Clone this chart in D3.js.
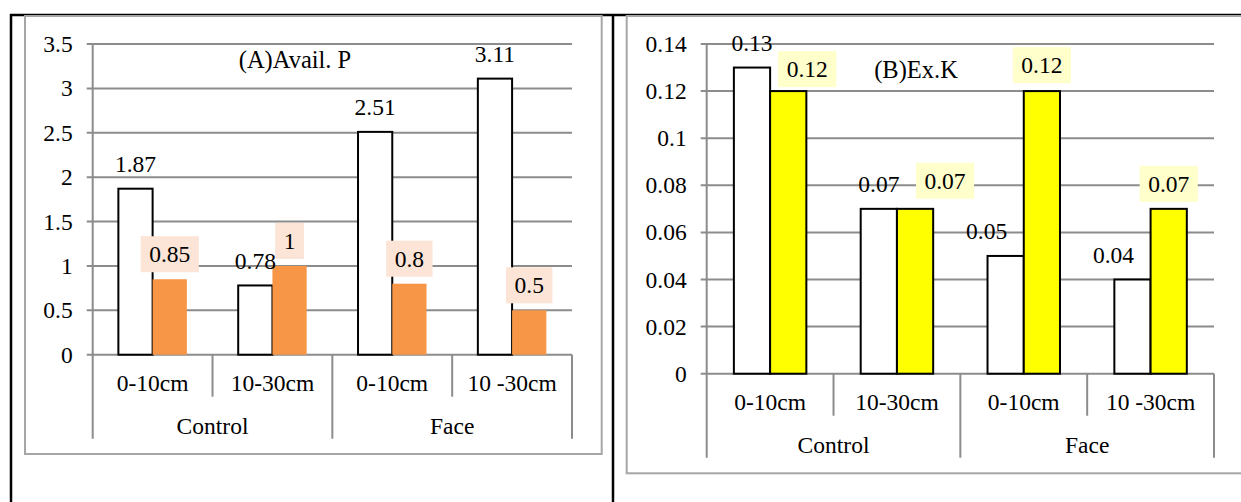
<!DOCTYPE html>
<html>
<head>
<meta charset="utf-8">
<script src="https://cdn.jsdelivr.net/npm/d3@7"></script>
<style>
  html, body { margin: 0; padding: 0; background: #fff; }
  svg { display: block; }
</style>
</head>
<body>
<svg id="fig" width="1241" height="502"></svg>
<script>
// Soil depth classes under each treatment
const depthLabels = ["0-10cm", "10-30cm", "0-10cm", "10 -30cm"];
const treatmentLabels = ["Control", "Face"];

// (A) Available P
const availPBefore = [1.87, 0.78, 2.51, 3.11];
const availPAfter  = [0.85, 1, 0.8, 0.5];
const availPTicks  = [0, 0.5, 1, 1.5, 2, 2.5, 3, 3.5];

// (B) Exchangeable K
const exKBefore = [0.13, 0.07, 0.05, 0.04];
const exKAfter  = [0.12, 0.07, 0.12, 0.07];
const exKTicks  = [0, 0.02, 0.04, 0.06, 0.08, 0.1, 0.12, 0.14];

// use the first installed Times-like face
function pickSerif(cands) {
  const ctx = document.createElement("canvas").getContext("2d");
  const probe = "Control 0.12 (A)Avail. P";
  ctx.font = "40px monospace";
  const base = ctx.measureText(probe).width;
  for (const f of cands) {
    ctx.font = `40px '${f}', monospace`;
    if (Math.abs(ctx.measureText(probe).width - base) > 0.5) return `'${f}', serif`;
  }
  return "serif";
}
const SERIF = pickSerif(["Liberation Serif", "Times New Roman", "Tinos", "DejaVu Serif", "Noto Serif"]);

const svg = d3.select("#fig").attr("font-family", SERIF);
const GRID = "#8c8c8c";
const FONT = 23.5;

function label(g, x, y, str, size, anchor) {
  return g.append("text")
    .attr("x", x).attr("y", y)
    .attr("font-family", SERIF)
    .attr("font-size", size)
    .attr("fill", "#000")
    .attr("text-anchor", anchor)
    .text(str);
}

// table rules around the two figure cells
svg.append("line").attr("x1", 10).attr("x2", 1241).attr("y1", 15).attr("y2", 15)
  .attr("stroke", "#000").attr("stroke-width", 2.5);
svg.append("line").attr("x1", 11).attr("x2", 11).attr("y1", 14).attr("y2", 502)
  .attr("stroke", "#000").attr("stroke-width", 2.5);
svg.append("line").attr("x1", 613).attr("x2", 613).attr("y1", 14).attr("y2", 502)
  .attr("stroke", "#000").attr("stroke-width", 2.5);

function drawPanel(o) {
  const g = svg.append("g");

  // chart area border
  g.append("rect")
    .attr("x", o.frame[0]).attr("y", o.frame[1])
    .attr("width", o.frame[2]).attr("height", o.frame[3])
    .attr("fill", "none").attr("stroke", "#a6a6a6").attr("stroke-width", 2);

  const x0 = d3.scaleBand().domain(d3.range(depthLabels.length))
    .range([o.left, o.right]).padding(0);
  const x1 = d3.scaleBand().domain(["before", "after"])
    .range([0, x0.bandwidth()]).paddingInner(0).paddingOuter(0.75);
  const y = d3.scaleLinear().domain([0, o.ticks[o.ticks.length - 1]])
    .range([o.bottom, o.top]);

  // horizontal gridlines with short outside ticks
  g.selectAll(".grid").data(o.ticks).enter().append("line")
    .attr("x1", o.left - 6).attr("x2", o.right)
    .attr("y1", d => y(d)).attr("y2", d => y(d))
    .attr("stroke", GRID).attr("stroke-width", 2);

  // value axis line, continued down through the category rows
  g.append("line").attr("x1", o.left).attr("x2", o.left)
    .attr("y1", y(o.ticks[o.ticks.length - 1])).attr("y2", o.bottom + 84)
    .attr("stroke", GRID).attr("stroke-width", 2);

  // value tick labels
  o.ticks.forEach(t => label(g, o.left - 20, y(t) + 8, String(t), FONT, "end"));

  // category dividers: short between depths, long between treatments
  const n = depthLabels.length;
  d3.range(1, n + 1).forEach(i => {
    const xx = i === n ? o.right : x0(i);
    const long = (i === n) || (i % 2 === 0);
    g.append("line").attr("x1", xx).attr("x2", xx)
      .attr("y1", o.bottom).attr("y2", o.bottom + (long ? 84 : 42))
      .attr("stroke", GRID).attr("stroke-width", 2);
  });

  // depth labels
  depthLabels.forEach((d, i) =>
    label(g, x0(i) + x0.bandwidth() / 2, o.bottom + 36, d, FONT, "middle"));

  // treatment labels
  treatmentLabels.forEach((d, i) =>
    label(g, x0(i * 2) + x0.bandwidth(), o.bottom + 79, d, FONT, "middle"));

  // first series: white bars with black outline
  g.selectAll(".b1").data(o.before).enter().append("rect")
    .attr("x", (d, i) => x0(i) + x1("before"))
    .attr("width", x1.bandwidth())
    .attr("y", d => y(d)).attr("height", d => y(0) - y(d))
    .attr("fill", "#fff").attr("stroke", "#000").attr("stroke-width", 2);

  // second series: coloured bars
  g.selectAll(".b2").data(o.after).enter().append("rect")
    .attr("x", (d, i) => x0(i) + x1("after"))
    .attr("width", x1.bandwidth())
    .attr("y", d => y(d)).attr("height", d => y(0) - y(d))
    .attr("fill", o.fill)
    .attr("stroke", o.stroke || "none").attr("stroke-width", 2);

  // value labels for the first series (some nudged sideways to clear bars)
  o.before.forEach((d, i) =>
    label(g, x0(i) + x1("before") + x1.bandwidth() / 2 + o.shift1[i],
          y(d) - 16.5, String(d), FONT, "middle"));

  // value labels for the second series, on a tinted box
  o.after.forEach((d, i) => {
    const cx = x0(i) + x1("after") + x1.bandwidth() / 2 + o.shift2[i][0];
    const base = y(d) - 17 + o.shift2[i][1];
    const box = g.append("rect").attr("fill", o.boxFill);
    const t = label(g, cx, base, String(d), FONT, "middle");
    const w = t.node().getComputedTextLength() + 17;
    box.attr("x", cx - w / 2).attr("width", w)
      .attr("y", base - 26).attr("height", 36);
  });

  // panel title
  label(g, o.titleX, o.titleY, o.title, 24.5, "middle");
}

drawPanel({
  frame: [25, 16, 576.7, 438],
  left: 92.7, right: 572, top: 44, bottom: 354.7,
  ticks: availPTicks,
  before: availPBefore, after: availPAfter,
  shift1: [0, 0, 0, 0],
  shift2: [[0, 0], [0, 0], [0, 0], [0, 0]],
  fill: "#f79646", stroke: null, boxFill: "#fce4d6",
  title: "(A)Avail. P", titleX: 295, titleY: 68
});

drawPanel({
  frame: [626.7, 16, 640, 457.3],
  left: 706.7, right: 1214, top: 44, bottom: 373.7,
  ticks: exKTicks,
  before: exKBefore, after: exKAfter,
  shift1: [0, 0, -19, -19],
  shift2: [[19, 3], [30, -3], [0, -1], [0, 0]],
  fill: "#ffff00", stroke: "#000", boxFill: "#ffffcc",
  title: "(B)Ex.K", titleX: 916, titleY: 78
});
</script>
</body>
</html>
